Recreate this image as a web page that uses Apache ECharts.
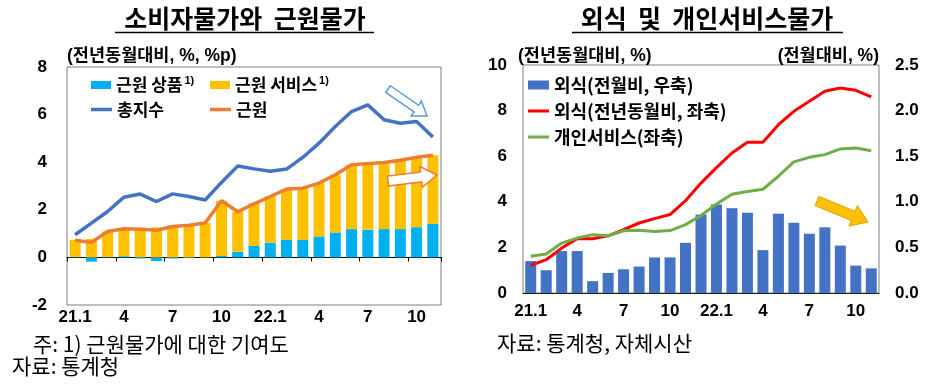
<!DOCTYPE html>
<html>
<head>
<meta charset="utf-8">
<script src="https://cdn.jsdelivr.net/npm/echarts@6/dist/echarts.min.js"></script>
<style>
html,body{margin:0;padding:0;background:#fff;}
#c{width:942px;height:386px;}
</style>
</head>
<body>
<div id="c"></div>
<script>
// ---------- data ----------
const months = ['21.1','21.2','21.3','21.4','21.5','21.6','21.7','21.8','21.9','21.10','21.11','21.12',
                '22.1','22.2','22.3','22.4','22.5','22.6','22.7','22.8','22.9','22.10','22.11'];
const tickLabels = ['21.1','','','4','','','7','','','10','','','22.1','','','4','','','7','','','10',''];

// Left chart: CPI and core CPI (YoY %, contribution %p)
const coreGoods    = [0.02,-0.18,0.02,0.05,-0.05,-0.15,-0.05,-0.02,0.00,0.06,0.24,0.48,0.62,0.73,0.73,0.88,1.05,1.19,1.16,1.19,1.19,1.27,1.41];
const coreServices = [0.72,0.78,1.07,1.18,1.23,1.26,1.34,1.40,1.44,2.32,1.68,1.79,1.95,2.13,2.19,2.24,2.42,2.70,2.78,2.80,2.89,2.93,2.88];
const headline     = [0.95,1.44,1.93,2.53,2.66,2.35,2.67,2.56,2.41,3.15,3.84,3.72,3.62,3.71,4.20,4.80,5.50,6.13,6.41,5.78,5.64,5.71,5.06];
const core         = [0.72,0.63,1.09,1.20,1.18,1.14,1.30,1.35,1.45,2.38,1.92,2.25,2.56,2.87,2.91,3.12,3.47,3.89,3.94,3.99,4.08,4.21,4.29];

// Right chart: eating-out and personal services prices
const eatMoM   = [0.35,0.25,0.46,0.46,0.13,0.22,0.26,0.29,0.39,0.39,0.55,0.86,0.97,0.93,0.88,0.47,0.87,0.77,0.65,0.72,0.52,0.30,0.27];
const eatYoY   = [1.21,1.46,1.97,2.38,2.38,2.51,2.78,3.07,3.26,3.44,4.05,4.82,5.50,6.14,6.61,6.61,7.38,7.97,8.41,8.85,8.99,8.89,8.60];
const personal = [1.61,1.71,2.19,2.41,2.56,2.51,2.73,2.75,2.70,2.74,3.00,3.40,3.90,4.33,4.45,4.55,5.12,5.75,5.95,6.07,6.32,6.36,6.24];

const leftYTicks  = {min:-2, max:8, interval:2};
const rightYLeft  = {min:0, max:10, interval:2};
const rightYRight = {min:0, max:2.5, interval:0.5};

// ---------- style ----------
const FF = '"Liberation Sans","Noto Sans CJK KR",sans-serif';
const KF = '"Noto Sans CJK KR","Liberation Sans",sans-serif';
const axisLbl = {color:'#000', fontFamily:FF, fontWeight:'bold', fontSize:17};
function legStyle(size){
  return {color:'#000', fontFamily:KF, fontWeight:'bold', fontSize:size,
    rich:{
      t:{color:'#000', fontFamily:KF, fontWeight:'bold', fontSize:size, lineHeight:20},
      s:{color:'#000', fontFamily:FF, fontWeight:'bold', fontSize:11, lineHeight:20, verticalAlign:'top', padding:[0,0,0,2]}
    }};
}

function arrow(x1,y1,x2,y2,sw,hw,hl){
  const dx=x2-x1, dy=y2-y1, L=Math.hypot(dx,dy);
  const ux=dx/L, uy=dy/L, nx=-uy, ny=ux;
  const bx=x1+ux*(L-hl), by=y1+uy*(L-hl);
  return [
    [x1+nx*sw/2, y1+ny*sw/2],
    [bx+nx*sw/2, by+ny*sw/2],
    [bx+nx*hw/2, by+ny*hw/2],
    [x2, y2],
    [bx-nx*hw/2, by-ny*hw/2],
    [bx-nx*sw/2, by-ny*sw/2],
    [x1-nx*sw/2, y1-ny*sw/2]
  ];
}

function legendItem(name, left, top, icon, w, h, sup, size){
  return {
    data:[name], left:left, top:top, padding:0, icon:icon, itemWidth:w, itemHeight:h, itemGap:0,
    textStyle:legStyle(size || 17), selectedMode:false,
    formatter: sup ? (n => '{t|' + n + '}{s|1)}') : (n => '{t|' + n + '}')
  };
}

const chart = echarts.init(document.getElementById('c'), null, {renderer:'canvas'});

const option = {
  animation:false,
  backgroundColor:'#fff',
  grid:[
    {left:67, top:67, width:374, height:238, show:true, borderColor:'#7f7f7f', borderWidth:1, backgroundColor:'transparent'},
    {left:523, top:65, width:356, height:228, show:true, borderColor:'#7f7f7f', borderWidth:1, backgroundColor:'transparent'}
  ],
  legend:[
    legendItem('근원 상품', 91, 75, 'rect', 20, 8, true),
    legendItem('근원 서비스', 210, 75, 'rect', 20, 8, true),
    legendItem('총지수', 91, 101, 'rect', 21, 3.5, false),
    legendItem('근원', 210, 101, 'rect', 21, 3.5, false),
    legendItem('외식(전월비, 우축)', 528, 76, 'rect', 21, 9, false, 18),
    legendItem('외식(전년동월비, 좌축)', 528, 102, 'rect', 21, 3, false, 18),
    legendItem('개인서비스(좌축)', 528, 128, 'rect', 21, 3, false, 18)
  ],
  xAxis:[
    {gridIndex:0, type:'category', data:months, position:'bottom',
     axisLine:{show:false, onZero:false}, axisTick:{show:false},
     axisLabel:Object.assign({interval:0, margin:4, formatter:(v,i)=>tickLabels[i]}, axisLbl)},
    {gridIndex:0, type:'category', data:months, position:'top',
     axisLine:{show:true, onZero:true, lineStyle:{color:'#000', width:1}},
     axisTick:{show:true, interval:2, inside:true, length:4, lineStyle:{color:'#000'}},
     axisLabel:{show:false}},
    {gridIndex:1, type:'category', data:months, position:'bottom',
     axisLine:{show:true, lineStyle:{color:'#222', width:1}}, axisTick:{show:false},
     axisLabel:Object.assign({interval:0, margin:10, formatter:(v,i)=>tickLabels[i]}, axisLbl)}
  ],
  yAxis:[
    Object.assign({gridIndex:0, type:'value', axisLine:{show:false}, axisTick:{show:false}, splitLine:{show:false},
     axisLabel:Object.assign({margin:20}, axisLbl)}, leftYTicks),
    Object.assign({gridIndex:1, type:'value', position:'left', axisLine:{show:false}, axisTick:{show:false}, splitLine:{show:false},
     axisLabel:Object.assign({margin:16}, axisLbl)}, rightYLeft),
    Object.assign({gridIndex:1, type:'value', position:'right', axisLine:{show:false}, axisTick:{show:false}, splitLine:{show:false},
     axisLabel:Object.assign({margin:16, formatter:v => v.toFixed(1)}, axisLbl)}, rightYRight)
  ],
  series:[
    {name:'근원 상품', type:'bar', xAxisIndex:0, yAxisIndex:0, stack:'core', data:coreGoods, barWidth:11,
     itemStyle:{color:'#00B0F0'}},
    {name:'근원 서비스', type:'bar', xAxisIndex:0, yAxisIndex:0, stack:'core', data:coreServices, barWidth:11,
     itemStyle:{color:'#FFC000'}},
    {name:'총지수', type:'line', xAxisIndex:0, yAxisIndex:0, data:headline, symbol:'none',
     lineStyle:{color:'#4472C4', width:3.5}, itemStyle:{color:'#4472C4'}},
    {name:'근원', type:'line', xAxisIndex:0, yAxisIndex:0, data:core, symbol:'none',
     lineStyle:{color:'#ED7D31', width:3.5}, itemStyle:{color:'#ED7D31'}},
    {name:'외식(전월비, 우축)', type:'bar', xAxisIndex:2, yAxisIndex:2, data:eatMoM, barWidth:11,
     itemStyle:{color:'#4472C4'}},
    {name:'외식(전년동월비, 좌축)', type:'line', xAxisIndex:2, yAxisIndex:1, data:eatYoY, symbol:'none',
     lineStyle:{color:'#FF0000', width:3}, itemStyle:{color:'#FF0000'}},
    {name:'개인서비스(좌축)', type:'line', xAxisIndex:2, yAxisIndex:1, data:personal, symbol:'none',
     lineStyle:{color:'#70AD47', width:3}, itemStyle:{color:'#70AD47'}}
  ],
  graphic:[
    // titles
    {type:'text', x:245, y:18, style:{text:'소비자물가와  근원물가', fontFamily:KF, fontWeight:'bold', fontSize:25, fill:'#000', align:'center', verticalAlign:'middle'}},
    {type:'line', shape:{x1:115, y1:32.5, x2:374, y2:32.5}, style:{stroke:'#000', lineWidth:1.5}},
    {type:'text', x:707, y:18, style:{text:'외식  및  개인서비스물가', fontFamily:KF, fontWeight:'bold', fontSize:25, fill:'#000', align:'center', verticalAlign:'middle'}},
    {type:'line', shape:{x1:572, y1:32.5, x2:843, y2:32.5}, style:{stroke:'#000', lineWidth:1.5}},
    // unit labels
    {type:'text', x:67, y:56, style:{text:'(전년동월대비, %, %p)', fontFamily:FF, fontWeight:'bold', fontSize:17.5, fill:'#000', align:'left', verticalAlign:'middle'}},
    {type:'text', x:518, y:56, style:{text:'(전년동월대비, %)', fontFamily:FF, fontWeight:'bold', fontSize:17.5, fill:'#000', align:'left', verticalAlign:'middle'}},
    {type:'text', x:879, y:56, style:{text:'(전월대비, %)', fontFamily:FF, fontWeight:'bold', fontSize:17.5, fill:'#000', align:'right', verticalAlign:'middle'}},
    // footnotes
    {type:'text', x:33, y:344, style:{text:'주: 1) 근원물가에 대한 기여도', fontFamily:KF, fontSize:21, fill:'#000', align:'left', verticalAlign:'middle'}},
    {type:'text', x:12, y:366, style:{text:'자료: 통계청', fontFamily:KF, fontSize:21, fill:'#000', align:'left', verticalAlign:'middle'}},
    {type:'text', x:497, y:343, style:{text:'자료: 통계청, 자체시산', fontFamily:KF, fontSize:21, fill:'#000', align:'left', verticalAlign:'middle'}},
    // arrows
    {type:'polygon', z:100, shape:{points:arrow(388,89,427,116,8,18,13)}, style:{fill:'#fff', stroke:'#5B9BD5', lineWidth:1.5}},
    {type:'polygon', z:100, shape:{points:arrow(388,181,437,175,10,21,16)}, style:{fill:'#fff', stroke:'#ED7D31', lineWidth:1.5}},
    {type:'polygon', z:100, shape:{points:arrow(817,201,868,222,10,22,16)}, style:{fill:'#FFC000', stroke:'#E0A000', lineWidth:1}}
  ]
};
chart.setOption(option);
</script>
</body>
</html>
